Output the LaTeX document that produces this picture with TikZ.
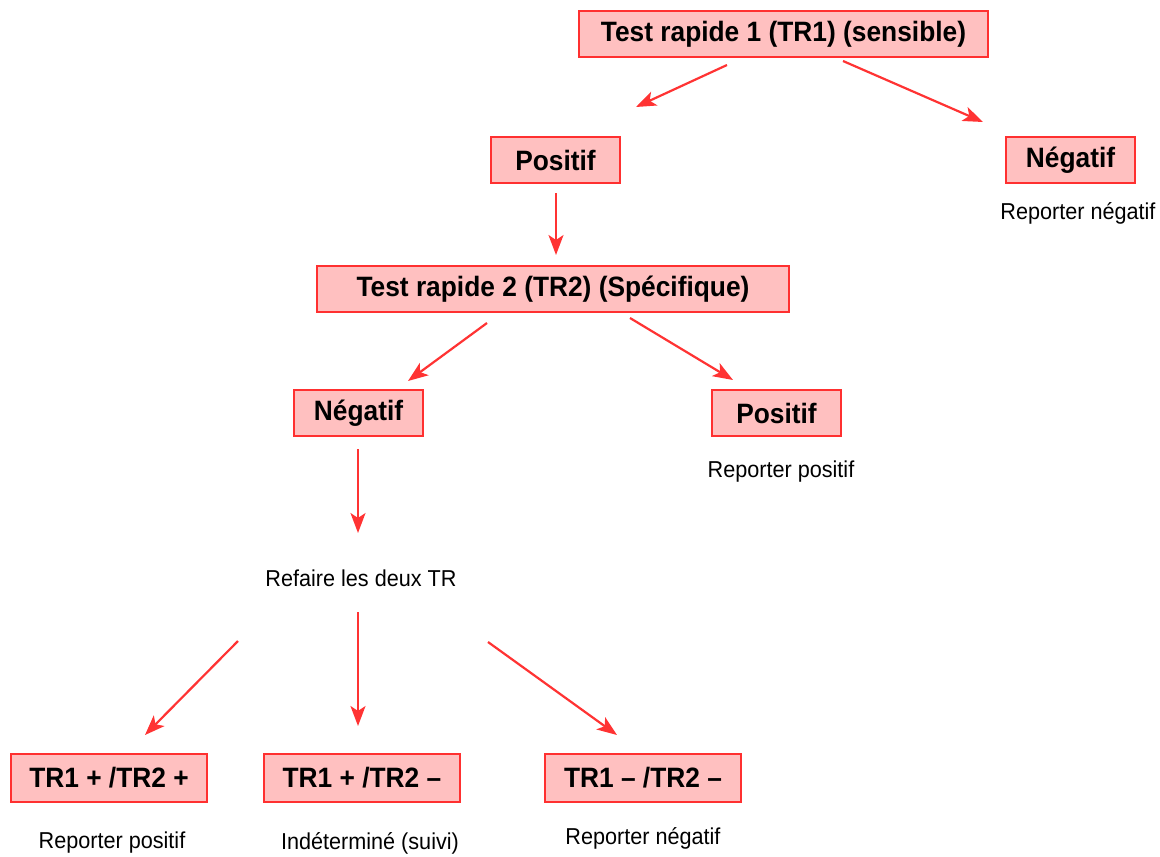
\documentclass[tikz,border=0pt]{standalone}
\usepackage{fontspec}
\setmainfont{Liberation Sans}[FakeStretch=0.94]
\usetikzlibrary{arrows.meta}
\definecolor{boxfill}{HTML}{FFC0C0}
\definecolor{boxline}{HTML}{FF3030}
\definecolor{arrowred}{HTML}{FF3333}
\begin{document}
\begin{tikzpicture}[x=1pt,y=-1pt,
  result/.style={draw=boxline, fill=boxfill, line width=2.2pt, inner sep=0pt,
    font=\fontsize{28}{31}\selectfont\bfseries, text=black},
  smallbox/.style={result, minimum width=129pt, minimum height=46pt},
  bottombox/.style={result, minimum width=196pt, minimum height=48pt},
  note/.style={font=\fontsize{23}{26}\selectfont, text=black, inner sep=0pt},
  arr/.style={draw=arrowred, line width=2.2pt,
    -{Stealth[length=20pt,width=15pt,inset=5pt]}}]
\useasboundingbox (0,0) rectangle (1160,857);

% first test
\node[result, minimum width=409pt, minimum height=46pt] (tr1) at (783.5,34) {Test rapide 1 (TR1) (sensible)};
\node[smallbox] (pos1) at (555.5,160) {Positif};
\node[smallbox] (neg1) at (1070.5,160) {Négatif};
\node[note] (rneg1) at (1078,213) {Reporter négatif};

% second test
\node[result, minimum width=472pt, minimum height=46pt] (tr2) at (553,289) {Test rapide 2 (TR2) (Spécifique)};
\node[smallbox] (neg2) at (358.5,413) {Négatif};
\node[smallbox] (pos2) at (776.5,413) {Positif};
\node[note] (rpos2) at (781,472) {Reporter positif};

% repeat both tests
\node[note] (redo) at (361,578) {Refaire les deux TR};

% final outcomes
\node[bottombox] (pp) at (109,778) {TR1 + /TR2 +};
\node[bottombox] (pm) at (362,778) {TR1 + /TR2 –};
\node[bottombox] (mm) at (643,778) {TR1 – /TR2 –};
\node[note] (rpp) at (112,843) {Reporter positif};
\node[note] (rpm) at (370,843) {Indéterminé (suivi)};
\node[note] (rmm) at (643,838) {Reporter négatif};

% arrow end points
\coordinate (a1s) at (727,65);  \coordinate (a1e) at (636,107);
\coordinate (a2s) at (843,61);  \coordinate (a2e) at (983,122);
\coordinate (a3s) at (556,193); \coordinate (a3e) at (556,255);
\coordinate (a4s) at (487,323); \coordinate (a4e) at (408,381);
\coordinate (a5s) at (630,318); \coordinate (a5e) at (733,380);
\coordinate (a6s) at (358,449); \coordinate (a6e) at (358,533);
\coordinate (a7s) at (238,641); \coordinate (a7e) at (145,735);
\coordinate (a8s) at (358,612); \coordinate (a8e) at (358,726);
\coordinate (a9s) at (488,642); \coordinate (a9e) at (617,735);

\draw[arr] (a1s) -- (a1e);
\draw[arr] (a2s) -- (a2e);
\draw[arr] (a3s) -- (a3e);
\draw[arr] (a4s) -- (a4e);
\draw[arr] (a5s) -- (a5e);
\draw[arr] (a6s) -- (a6e);
\draw[arr] (a7s) -- (a7e);
\draw[arr] (a8s) -- (a8e);
\draw[arr] (a9s) -- (a9e);
\end{tikzpicture}
\end{document}
